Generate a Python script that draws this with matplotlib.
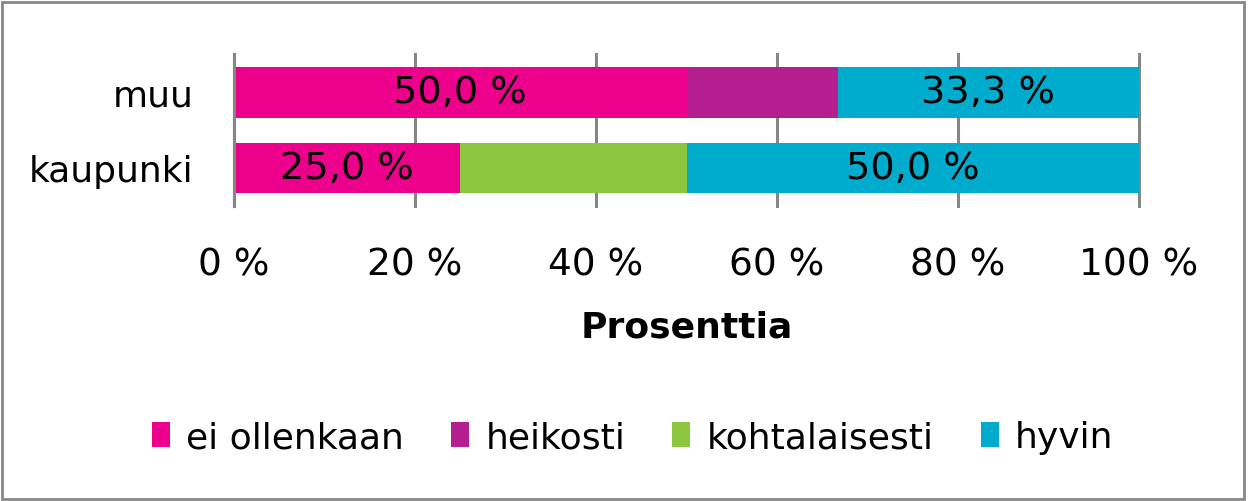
import matplotlib
matplotlib.use("Agg")
from matplotlib import pyplot as plt
from matplotlib.patches import Rectangle
from matplotlib.ticker import FuncFormatter

categories = ["kaupunki", "muu"]
series_names = ["ei ollenkaan", "heikosti", "kohtalaisesti", "hyvin"]
series_colors = ["#EC008C", "#B41E8E", "#8DC63F", "#00ACCD"]
values = {
    "ei ollenkaan": [25.0, 50.0],
    "heikosti": [0.0, 16.7],
    "kohtalaisesti": [25.0, 0.0],
    "hyvin": [50.0, 33.3],
}
# which segments carry a visible data label
shown = {
    "ei ollenkaan": [True, True],
    "heikosti": [False, False],
    "kohtalaisesti": [False, False],
    "hyvin": [True, True],
}
x_ticks = [0, 20, 40, 60, 80, 100]

plt.rcParams["font.family"] = ["DejaVu Sans"]
fig = plt.figure(figsize=(12.48, 5.02), dpi=100)
ax = fig.add_axes([0.1875, 0.588, 0.7252, 0.302])

y = list(range(len(categories)))
left = [0.0] * len(categories)
for name, color in zip(series_names, series_colors):
    vals = values[name]
    bars = ax.barh(y, vals, left=left, height=0.67, color=color, label=name, zorder=2)
    labels = [("%.1f %%" % v).replace(".", ",") if s else "" for v, s in zip(vals, shown[name])]
    txts = ax.bar_label(bars, labels=labels, label_type="center", fontsize=27.5, color="black")
    for t in txts:
        t.set_y(t.get_position()[1])
    left = [l + v for l, v in zip(left, vals)]

ax.set_xlim(0, 100)
ax.set_ylim(-0.5, 1.5)
ax.set_yticks(y)
ax.set_yticklabels(categories, fontsize=26)
ax.set_xticks(x_ticks)
ax.xaxis.set_major_formatter(FuncFormatter(lambda v, p: "%d %%" % v))
ax.tick_params(axis="x", labelsize=27, length=0, pad=29)
ax.tick_params(axis="y", length=0, pad=29)
ax.grid(axis="x", color="#868686", linewidth=2.2, zorder=1)
for line in ax.get_xgridlines():
    line.set_clip_on(False)
for side in ["top", "right", "bottom"]:
    ax.spines[side].set_visible(False)
ax.spines["left"].set_color("#868686")
ax.spines["left"].set_linewidth(2.2)
ax.set_xlabel("Prosenttia", fontsize=26, fontweight="bold", labelpad=20)

leg = fig.legend(loc="center", bbox_to_anchor=(0.507, 0.127), ncol=4, frameon=False,
                 fontsize=26, handlelength=0.5, handleheight=0.7, handletextpad=0.45,
                 columnspacing=1.3)

fig.patches.append(Rectangle((0.002, 0.004), 0.995, 0.991, transform=fig.transFigure,
                             fill=False, edgecolor="#868686", linewidth=2))
fig.savefig("out.png", dpi=100)
